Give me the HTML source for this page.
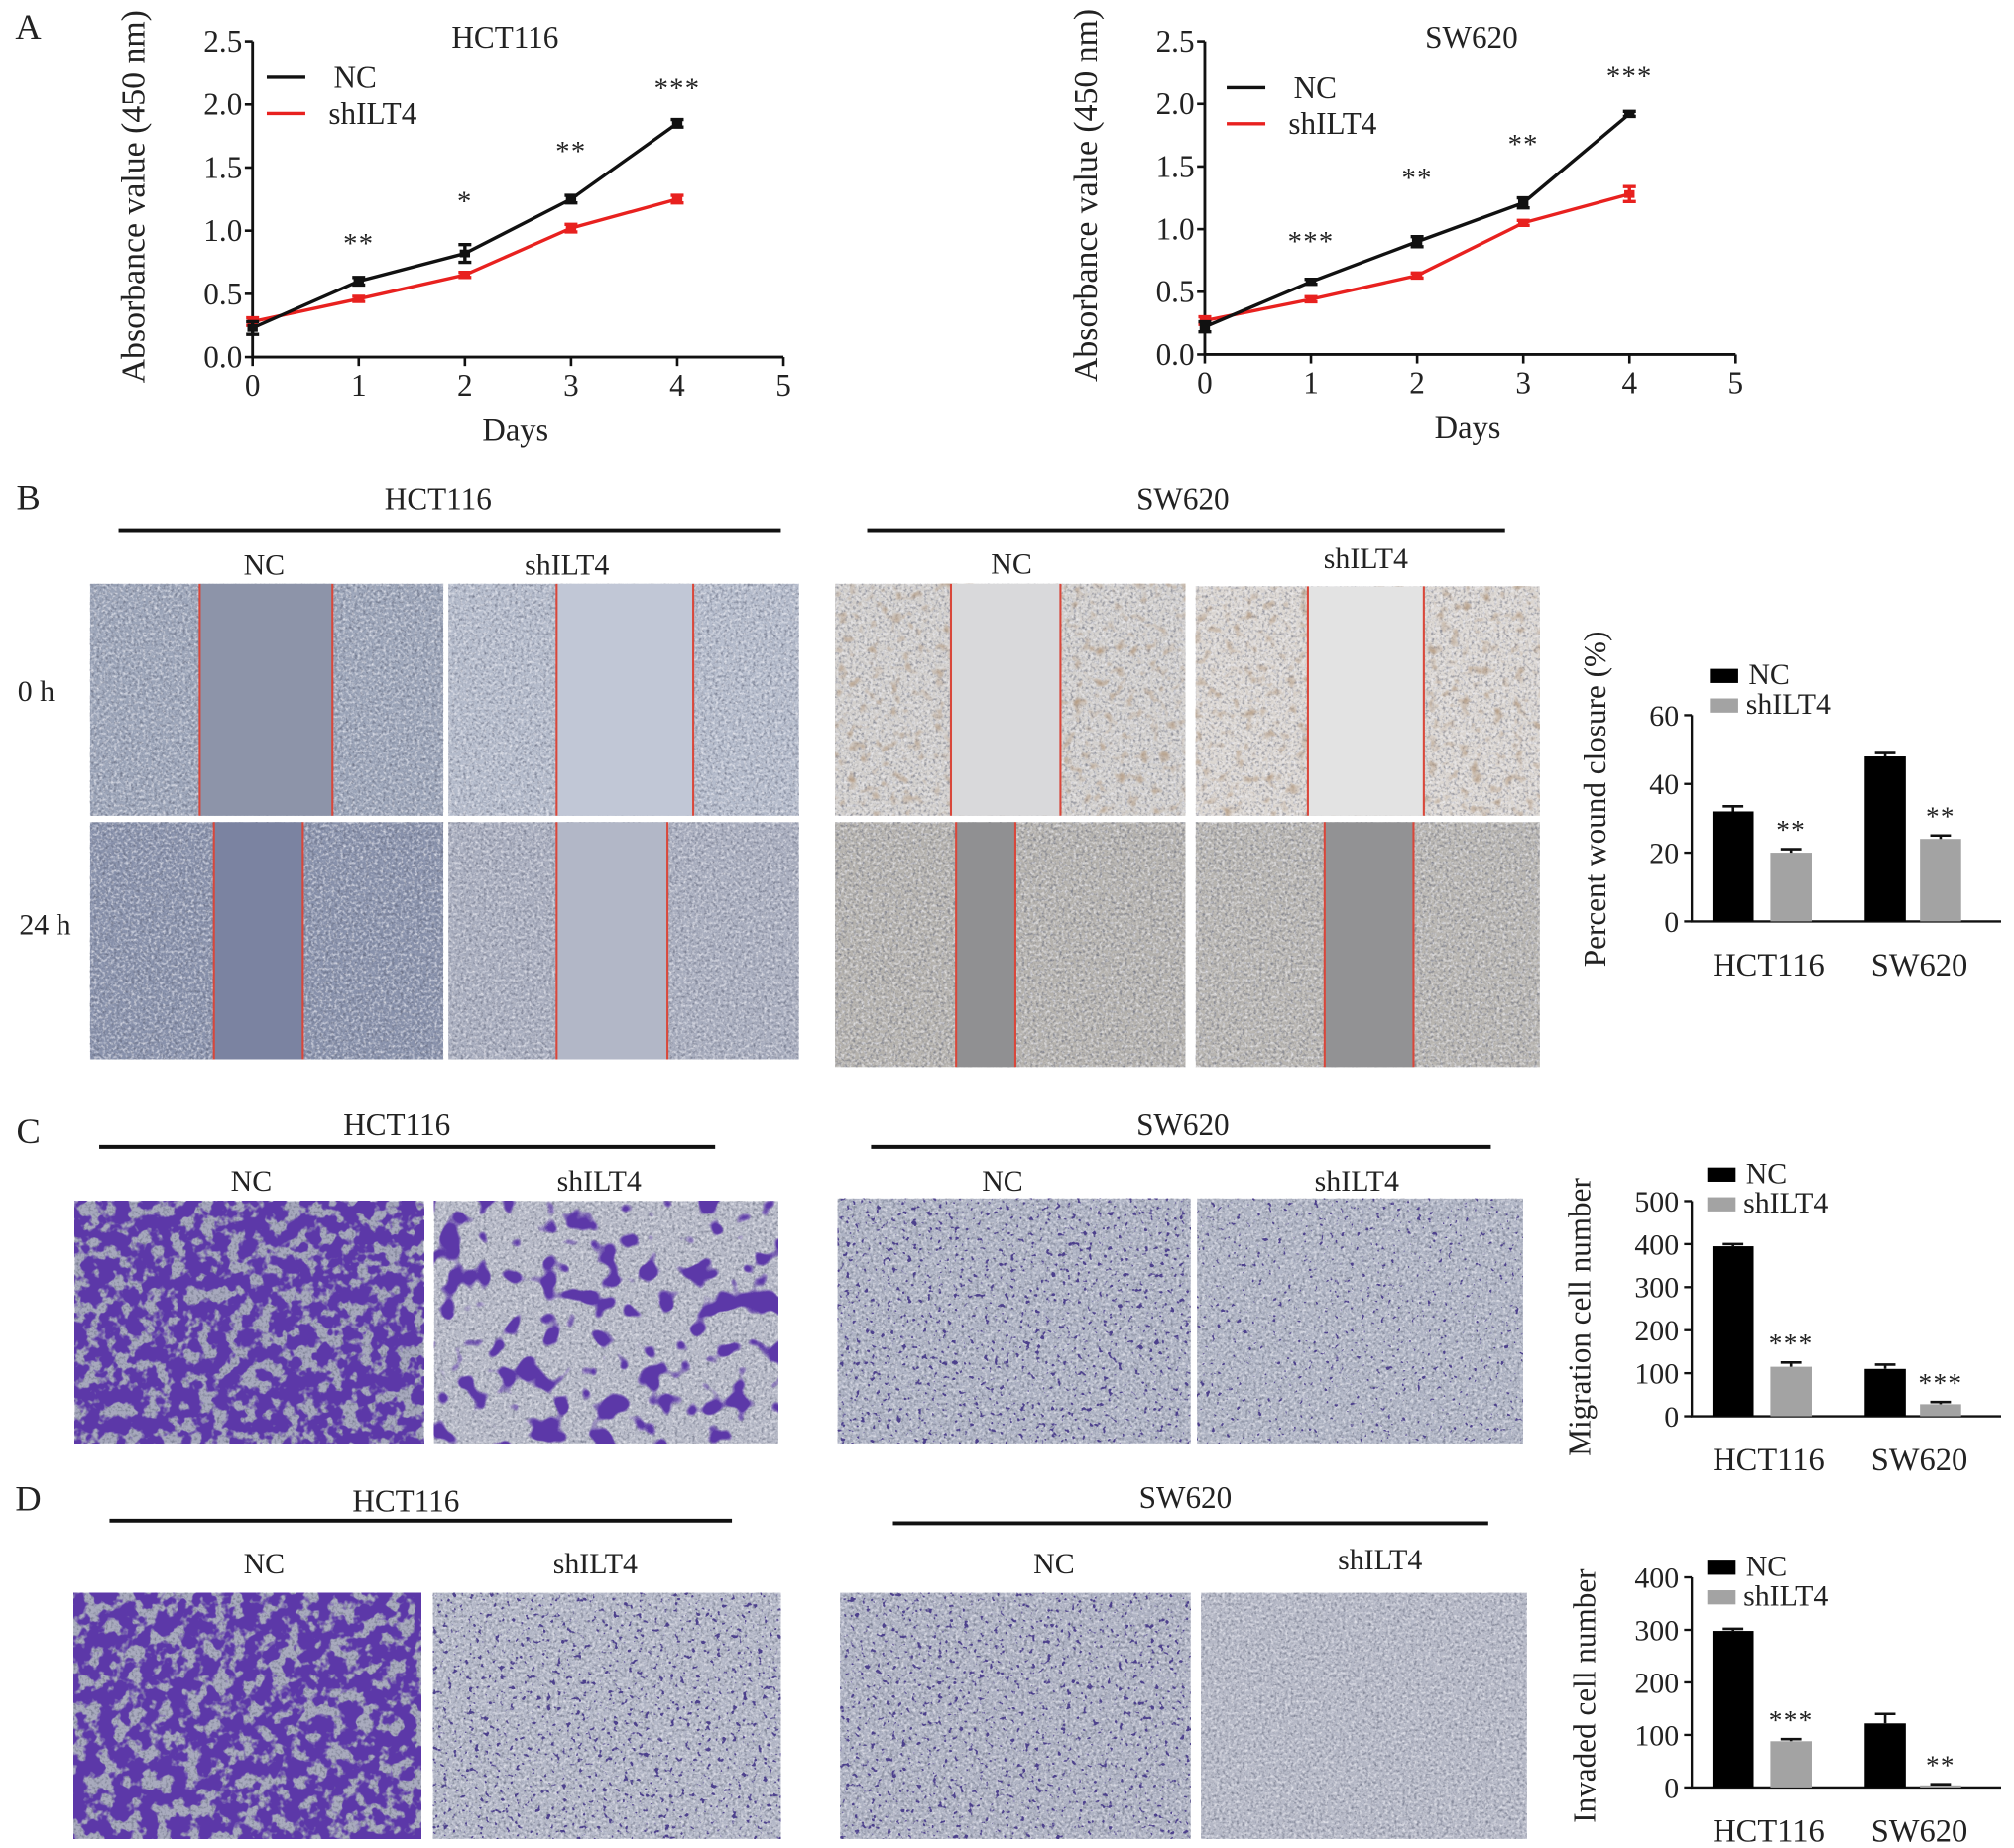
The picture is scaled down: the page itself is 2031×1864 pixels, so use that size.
<!DOCTYPE html>
<html><head><meta charset="utf-8"><style>
html,body{margin:0;padding:0;background:#fff;}
svg{display:block;}
text{font-family:"Liberation Serif",serif;fill:#222;}
filter{color-interpolation-filters:sRGB;}
</style></head><body>
<svg id="fig" width="2031" height="1864" viewBox="0 0 1563 1434" preserveAspectRatio="none" xmlns="http://www.w3.org/2000/svg">
<defs>
<filter id="fine" x="0" y="0" width="100%" height="100%" color-interpolation-filters="sRGB"><feTurbulence type="fractalNoise" baseFrequency="0.45" numOctaves="2" seed="3"/><feColorMatrix values="0 0 0 0 0.35 0 0 0 0 0.37 0 0 0 0 0.45 1.6 0 0 0 -0.75"/></filter>
<filter id="fineLight" x="0" y="0" width="100%" height="100%" color-interpolation-filters="sRGB"><feTurbulence type="fractalNoise" baseFrequency="0.45" numOctaves="2" seed="5"/><feColorMatrix values="0 0 0 0 0.95 0 0 0 0 0.95 0 0 0 0 0.97 1.8 0 0 0 -0.8"/></filter>
<filter id="brown" x="0" y="0" width="100%" height="100%" color-interpolation-filters="sRGB"><feTurbulence type="fractalNoise" baseFrequency="0.12" numOctaves="2" seed="8"/><feColorMatrix values="0 0 0 0 0.7 0 0 0 0 0.6 0 0 0 0 0.5 2.5 0 0 0 -1.4"/></filter>
<filter id="purpleDense" x="0" y="0" width="100%" height="100%" color-interpolation-filters="sRGB"><feTurbulence type="fractalNoise" baseFrequency="0.09" numOctaves="3" seed="2"/><feColorMatrix values="0 0 0 0 0.36 0 0 0 0 0.22 0 0 0 0 0.66 9 0 0 0 -3.6"/></filter>
<filter id="purpleBlob" x="0" y="0" width="100%" height="100%" color-interpolation-filters="sRGB"><feTurbulence type="fractalNoise" baseFrequency="0.05" numOctaves="2" seed="11"/><feColorMatrix values="0 0 0 0 0.36 0 0 0 0 0.22 0 0 0 0 0.66 14 0 0 0 -7.9"/></filter>
<filter id="purpleSpeck" x="0" y="0" width="100%" height="100%" color-interpolation-filters="sRGB"><feTurbulence type="fractalNoise" baseFrequency="0.25" numOctaves="2" seed="6"/><feColorMatrix values="0 0 0 0 0.3 0 0 0 0 0.25 0 0 0 0 0.55 12 0 0 0 -7.7"/></filter>
<filter id="purpleRare" x="0" y="0" width="100%" height="100%" color-interpolation-filters="sRGB"><feTurbulence type="fractalNoise" baseFrequency="0.25" numOctaves="2" seed="9"/><feColorMatrix values="0 0 0 0 0.3 0 0 0 0 0.25 0 0 0 0 0.55 14 0 0 0 -9.6"/></filter>
</defs>
<g id="layer"></g>
</svg>
<script>
// ---- Panel A data ----
const daysA = [0, 1, 2, 3, 4];
const xTicksA = [0, 1, 2, 3, 4, 5];
const yTicksA = [0.0, 0.5, 1.0, 1.5, 2.0, 2.5];
const hctNC = [0.23, 0.60, 0.82, 1.25, 1.85];
const hctNCerr = [0.05, 0.03, 0.07, 0.03, 0.03];
const hctSh = [0.28, 0.46, 0.65, 1.02, 1.25];
const hctShErr = [0.03, 0.02, 0.02, 0.03, 0.03];
const hctStars = ["", "**", "*", "**", "***"];
const swNC = [0.22, 0.58, 0.90, 1.21, 1.92];
const swNCerr = [0.04, 0.02, 0.04, 0.04, 0.02];
const swSh = [0.27, 0.44, 0.63, 1.05, 1.28];
const swShErr = [0.03, 0.02, 0.02, 0.02, 0.06];
const swStars = ["", "***", "**", "**", "***"];
// ---- Bar chart data ----
const barGroups = ["HCT116", "SW620"];
const woundNC = [32, 48];
const woundNCerr = [1.5, 1];
const woundSh = [20, 24];
const woundShErr = [1, 1];
const woundStars = ["**", "**"];
const woundTicks = [0, 20, 40, 60];
const migNC = [395, 110];
const migNCerr = [5, 10];
const migSh = [115, 28];
const migShErr = [10, 5];
const migStars = ["***", "***"];
const migTicks = [0, 100, 200, 300, 400, 500];
const invNC = [298, 122];
const invNCerr = [4, 18];
const invSh = [88, 4];
const invShErr = [4, 2];
const invStars = ["***", "**"];
const invTicks = [0, 100, 200, 300, 400];

const NS = "http://www.w3.org/2000/svg";
const L = document.getElementById('layer');
function mk(tag, attrs, parent) {
  const e = document.createElementNS(NS, tag);
  for (const k in attrs) e.setAttribute(k, attrs[k]);
  (parent || L).appendChild(e);
  return e;
}
function txt(x, y, s, size, anchor, name, parent, extra) {
  const t = mk('text', Object.assign({x: x, y: y, 'font-size': size, 'text-anchor': anchor || 'middle'}, extra || {}), parent);
  t.textContent = s;
  
  
  return t;
}

// ---------- Line charts ----------
function lineChart(o) {
  const g = mk('g', {});
  
  
  const sx = d => o.x0 + (d - 0) / 5 * (o.x1 - o.x0);
  const sy = v => o.y0 - v / 2.5 * (o.y0 - o.y1);
  const ax = mk('path', {d: `M${o.x0},${sy(2.5)} L${o.x0},${o.y0} L${sx(5)},${o.y0}`, stroke: '#111', 'stroke-width': 2.2, fill: 'none'}, g);
  
  
  yTicksA.forEach(v => {
    const tk = mk('line', {x1: o.x0 - 6, x2: o.x0, y1: sy(v), y2: sy(v), stroke: '#111', 'stroke-width': 2}, g);
    
    
    txt(o.x0 - 8, sy(v) + 8, v.toFixed(1), 24, 'end', 'y-tick-label', g);
  });
  xTicksA.forEach(d => {
    const tk = mk('line', {x1: sx(d), x2: sx(d), y1: o.y0, y2: o.y0 + 7, stroke: '#111', 'stroke-width': 2}, g);
    
    
    txt(sx(d), o.y0 + 30, String(d), 24, 'middle', 'x-tick-label', g);
  });
  txt((o.x0 + sx(5)) / 2 - 2, o.y0 + 65, 'Days', 25, 'middle', 'x-axis-title', g);
  txt(o.tx, o.ty, o.title, 24, 'middle', 'chart-title', g);
  txt(0, 0, 'Absorbance value (450 nm)', 26, 'middle', 'y-axis-title', g, {transform: `translate(${o.x0 - 84},${(sy(0) + sy(2.5)) / 2 - 2}) rotate(-90)`});
  const series = [[o.nc, o.ncErr, '#111', 'nc-line'], [o.sh, o.shErr, '#e8211f', 'shilt4-line']];
  series.slice().reverse().forEach(([vals, errs, col, nm]) => {
    const p = mk('polyline', {points: daysA.map((d, i) => sx(d) + ',' + sy(vals[i])).join(' '), stroke: col, 'stroke-width': 2.6, fill: 'none'}, g);
    
    
    daysA.forEach((d, i) => {
      const e = mk('path', {d: `M${sx(d)},${sy(vals[i] + errs[i])} V${sy(vals[i] - errs[i])} M${sx(d) - 5},${sy(vals[i] + errs[i])} h10 M${sx(d) - 5},${sy(vals[i] - errs[i])} h10`, stroke: col, 'stroke-width': 2.6, fill: 'none'}, g);
      
      
      const m = mk('rect', {x: sx(d) - 4, y: sy(vals[i]) - 3, width: 8, height: 6, fill: col}, g);
      
      
    });
  });
  daysA.forEach((d, i) => {
    if (o.stars[i]) txt(sx(d), sy(Math.max(o.nc[i], o.sh[i])) - o.starOff[i], o.stars[i], 22, 'middle', 'significance-marker', g, {'letter-spacing': '1'});
  });
  const l1 = mk('line', {x1: o.lx, x2: o.lx + 30, y1: o.ly, y2: o.ly, stroke: '#111', 'stroke-width': 2.6}, g);
  
  
  txt(o.lx + 52, o.ly + 8, 'NC', 24, 'start', 'legend-nc-label', g);
  const l2 = mk('line', {x1: o.lx, x2: o.lx + 30, y1: o.ly + 28, y2: o.ly + 28, stroke: '#e8211f', 'stroke-width': 2.6}, g);
  
  
  txt(o.lx + 48, o.ly + 36, 'shILT4', 24, 'start', 'legend-shilt4-label', g);
}
lineChart({name: 'hct116-growth-chart', x0: 196, x1: 608, y0: 277, y1: 32, nc: hctNC, ncErr: hctNCerr, sh: hctSh, shErr: hctShErr, stars: hctStars, starOff: [0, 22, 33, 30, 20], title: 'HCT116', tx: 392, ty: 37, lx: 207, ly: 60});
lineChart({name: 'sw620-growth-chart', x0: 935, x1: 1347, y0: 275, y1: 32, nc: swNC, ncErr: swNCerr, sh: swSh, shErr: swShErr, stars: swStars, starOff: [0, 24, 42, 38, 22], title: 'SW620', tx: 1142, ty: 37, lx: 952, ly: 68});

// ---------- Panel letters and headers ----------
[['A', 22, 30], ['B', 22, 395], ['C', 22, 887], ['D', 22, 1172]].forEach(([s, x, y]) => txt(x, y, s, 28, 'middle', 'panel-label-' + s.toLowerCase(), L));
function header(label, cx, cy, x1, x2, ly, ncx, ncy, shx, shy) {
  txt(cx, cy, label, 24, 'middle', 'cell-line-header', L);
  const ln = mk('line', {x1: x1, x2: x2, y1: ly, y2: ly, stroke: '#111', 'stroke-width': 3});
  
  
  txt(ncx, ncy, 'NC', 23, 'middle', 'group-label-nc', L);
  txt(shx, shy, 'shILT4', 23, 'middle', 'group-label-shilt4', L);
}
header('HCT116', 340, 395, 92, 606, 412, 205, 446, 440, 446);
header('SW620', 918, 395, 673, 1168, 412, 785, 445, 1060, 441);
header('HCT116', 308, 881, 77, 555, 890, 195, 924, 465, 924);
header('SW620', 918, 881, 676, 1157, 890, 778, 924, 1053, 924);
header('HCT116', 315, 1173, 85, 568, 1180, 205, 1221, 462, 1221);
header('SW620', 920, 1170, 693, 1155, 1182, 818, 1221, 1071, 1218);
txt(28, 544, '0 h', 23, 'middle', 'timepoint-0h', L);
txt(35, 725, '24 h', 23, 'middle', 'timepoint-24h', L);

// ---------- Micrographs ----------
function micro(name, x, y, w, h, base, overlays) {
  const g = mk('g', {});
  
  
  mk('rect', {x: x, y: y, width: w, height: h, fill: base}, g);
  overlays.forEach(f => mk('rect', {x: x, y: y, width: w, height: h, fill: '#000', filter: 'url(#' + f + ')'}, g));
  return g;
}
function wound(name, x, y, w, h, cell, gap, r1, r2, extra) {
  const g = micro(name, x, y, w, h, cell, ['fine', 'fineLight'].concat(extra || []));
  const gr = mk('rect', {x: r1, y: y, width: r2 - r1, height: h, fill: gap}, g);
  
  
  [r1, r2].forEach(rx => {
    const l = mk('line', {x1: rx, x2: rx, y1: y, y2: y + h, stroke: '#d9473a', 'stroke-width': 1.6}, g);
    
    
  });
}
wound('hct116-nc-0h', 70, 453, 274, 180, '#9ba4b8', '#8d94a9', 155, 258);
wound('hct116-shilt4-0h', 348, 453, 272, 180, '#b4bbcb', '#c1c7d6', 432, 538);
wound('hct116-nc-24h', 70, 638, 274, 184, '#8891ab', '#7b83a1', 166, 235);
wound('hct116-shilt4-24h', 348, 638, 272, 184, '#a8adbe', '#b2b7c7', 432, 518);
wound('sw620-nc-0h', 648, 453, 272, 180, '#d3d0cd', '#d9d9db', 738, 823, ['brown']);
wound('sw620-shilt4-0h', 928, 455, 267, 178, '#dcd7d2', '#e3e3e3', 1015, 1105, ['brown']);
wound('sw620-nc-24h', 648, 638, 272, 190, '#b5b2ad', '#909092', 742, 788);
wound('sw620-shilt4-24h', 928, 638, 267, 190, '#b8b5b0', '#929294', 1028, 1097);

micro('hct116-nc-migration', 58, 932, 271, 188, '#a7a9bd', ['fine', 'purpleDense']);
micro('hct116-shilt4-migration', 337, 932, 267, 188, '#b5b8c6', ['fine', 'fineLight', 'purpleBlob']);
micro('sw620-nc-migration', 650, 930, 274, 190, '#aeb3c4', ['fine', 'fineLight', 'purpleSpeck']);
micro('sw620-shilt4-migration', 929, 930, 253, 190, '#b0b5c5', ['fine', 'fineLight', 'purpleRare']);
micro('hct116-nc-invasion', 57, 1236, 270, 191, '#a9abbe', ['fine', 'purpleDense']);
micro('hct116-shilt4-invasion', 336, 1236, 270, 191, '#b3b7c7', ['fine', 'fineLight', 'purpleSpeck']);
micro('sw620-nc-invasion', 652, 1236, 272, 191, '#aeb2c3', ['fine', 'fineLight', 'purpleSpeck']);
micro('sw620-shilt4-invasion', 932, 1236, 253, 191, '#b5b8c6', ['fine', 'fineLight']);

// ---------- Bar charts ----------
function barChart(o) {
  const g = mk('g', {});
  
  
  const max = o.ticks[o.ticks.length - 1];
  const sy = v => o.y0 - v / max * (o.y0 - o.yTop);
  const ax = mk('path', {d: `M${o.x0},${o.yTop} V${o.y0} H1553`, stroke: '#111', 'stroke-width': 1.8, fill: 'none'}, g);
  
  
  o.ticks.forEach(v => {
    const t = mk('line', {x1: o.x0 - 6, x2: o.x0, y1: sy(v), y2: sy(v), stroke: '#111', 'stroke-width': 1.8}, g);
    
    
    txt(o.x0 - 10, sy(v) + 8, String(v), 23, 'end', 'y-tick-label', g);
  });
  const centers = [[1345, 1390], [1463, 1506]];
  barGroups.forEach((grp, i) => {
    [[o.nc, o.ncErr, '#000', 'nc'], [o.sh, o.shErr, '#a3a3a3', 'shilt4']].forEach(([vals, errs, col, nm], j) => {
      const cx = centers[i][j];
      const b = mk('rect', {x: cx - 16, y: sy(vals[i]), width: 32, height: o.y0 - sy(vals[i]), fill: col}, g);
      
      
      const e = mk('path', {d: `M${cx},${sy(vals[i])} V${sy(vals[i] + errs[i])} M${cx - 8},${sy(vals[i] + errs[i])} h16`, stroke: '#111', 'stroke-width': 2}, g);
      
      
    });
    txt(centers[i][1], sy(o.sh[i] + o.shErr[i]) - 8, o.stars[i], 21, 'middle', 'significance-marker', g, {'letter-spacing': '1'});
    txt((centers[i][0] + centers[i][1]) / 2 + 5, o.y0 + 42, grp, 25, 'middle', 'x-tick-label', g);
  });
  const s1 = mk('rect', {x: o.lx, y: o.ly, width: 22, height: 11, fill: '#000'}, g);
  
  
  txt(o.lx + 30, o.ly + 12, 'NC', 23, 'start', 'legend-nc-label', g);
  const s2 = mk('rect', {x: o.lx, y: o.ly + 23, width: 22, height: 11, fill: '#a3a3a3'}, g);
  
  
  txt(o.lx + 28, o.ly + 35, 'shILT4', 23, 'start', 'legend-shilt4-label', g);
  txt(0, 0, o.ytitle, 24, 'middle', 'y-axis-title', g, {transform: `translate(${o.tx},${o.tyc}) rotate(-90)`});
}
barChart({name: 'wound-closure-chart', x0: 1313, y0: 715, yTop: 555, ticks: woundTicks, nc: woundNC, ncErr: woundNCerr, sh: woundSh, shErr: woundShErr, stars: woundStars, lx: 1327, ly: 519, ytitle: 'Percent wound closure (%)', tx: 1246, tyc: 620});
barChart({name: 'migration-chart', x0: 1313, y0: 1099, yTop: 932, ticks: migTicks, nc: migNC, ncErr: migNCerr, sh: migSh, shErr: migShErr, stars: migStars, lx: 1325, ly: 906, ytitle: 'Migration cell number', tx: 1234, tyc: 1022});
barChart({name: 'invasion-chart', x0: 1313, y0: 1387, yTop: 1224, ticks: invTicks, nc: invNC, ncErr: invNCerr, sh: invSh, shErr: invShErr, stars: invStars, lx: 1325, ly: 1211, ytitle: 'Invaded cell number', tx: 1238, tyc: 1316});
</script>
</body></html>
